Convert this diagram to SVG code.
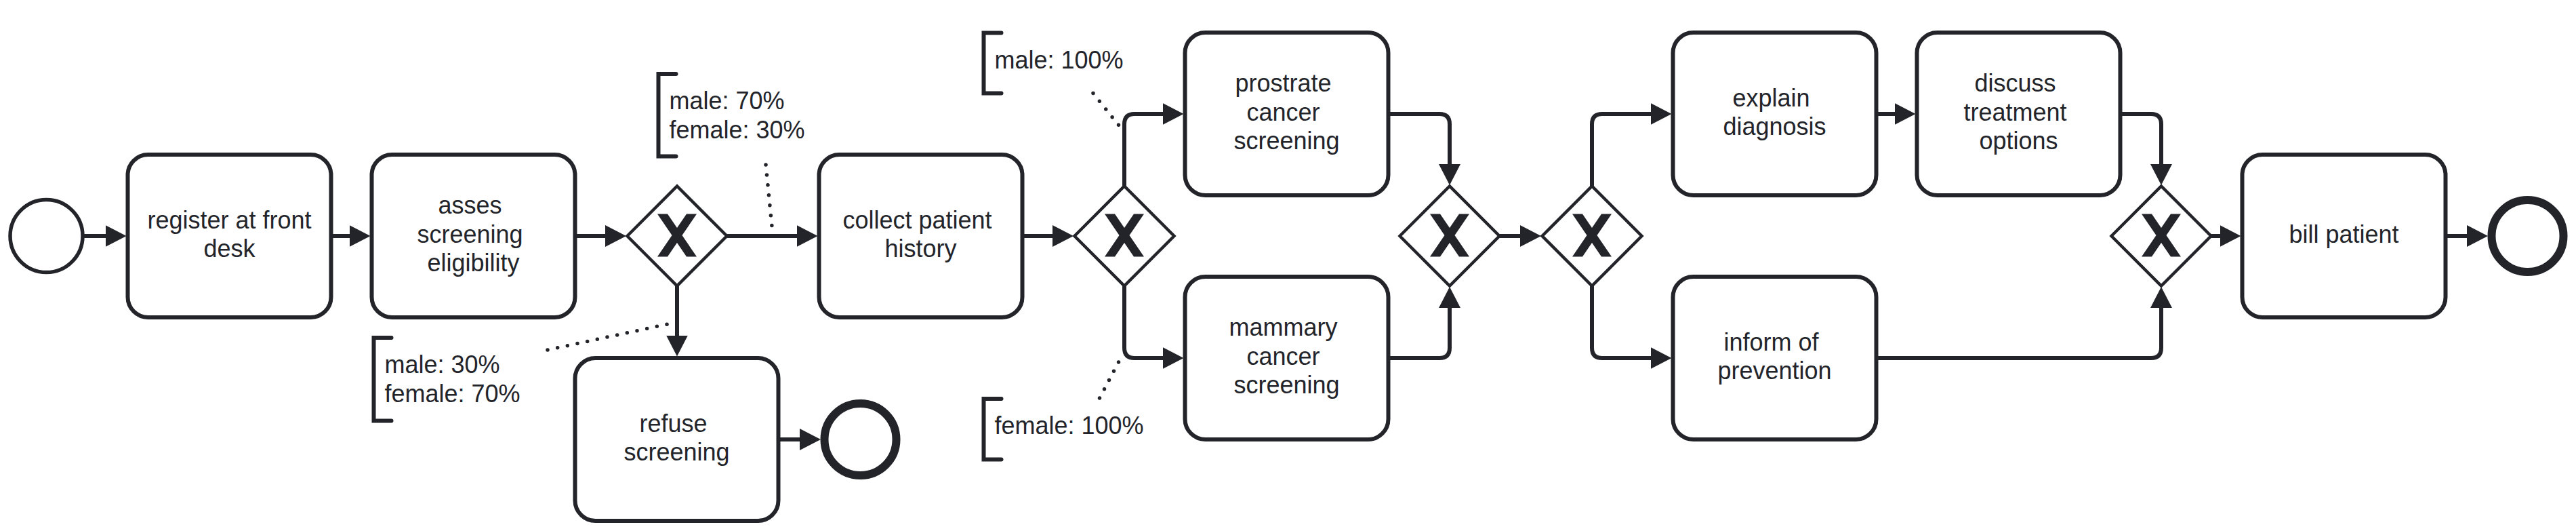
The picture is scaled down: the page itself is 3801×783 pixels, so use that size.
<svg xmlns="http://www.w3.org/2000/svg" width="3801" height="783" viewBox="0 0 3801 783">
  <style>
    .task rect { fill: #ffffff; stroke: #22242a; stroke-width: 6; }
    .gw .d { fill: #ffffff; stroke: #22242a; stroke-width: 4.5; stroke-linejoin: miter; }
    .gw .x { fill: #22242a; }
    .start circle { fill: #ffffff; stroke: #22242a; stroke-width: 5.5; }
    .end circle { fill: #ffffff; stroke: #22242a; stroke-width: 12; }
    .lbl { font-family: "Liberation Sans", Arial, sans-serif; font-size: 36px; fill: #22242a; text-anchor: middle; }
    .note text { font-family: "Liberation Sans", Arial, sans-serif; font-size: 36px; fill: #22242a; text-anchor: start; }
    .note path { fill: none; stroke: #22242a; stroke-width: 6; stroke-linecap: round; stroke-linejoin: miter; }
    .flow { fill: none; stroke: #22242a; stroke-width: 6; stroke-linejoin: round; marker-end: url(#arrow); }
    .assoc { fill: none; stroke: #22242a; stroke-width: 5.5; stroke-dasharray: 0 15; stroke-linecap: round; }
  </style>
  <defs>
    <marker id="arrow" markerUnits="userSpaceOnUse" viewBox="0 0 31 32" markerWidth="31" markerHeight="32" refX="25" refY="16" orient="auto">
      <path d="M0,0 L31,16 L0,32 Z" fill="#22242a"/>
    </marker>
    <!-- exclusive gateway marker, centred on 0,0 -->
    <path id="xmark" d="M-29,-31.5 H-14 L0,-11 L14,-31.5 H29 L7.5,0 L29,31.5 H14 L0,11 L-14,31.5 H-29 L-7.5,0 Z"/>
  </defs>

  <rect x="0" y="0" width="3801" height="783" fill="#ffffff"/>

  <!-- events -->
  <g id="start" class="start"><circle cx="68.5" cy="348" r="53.5"/></g>
  <g id="end-refused" class="end"><circle cx="1269.5" cy="648" r="53"/></g>
  <g id="end-billed" class="end"><circle cx="3729.5" cy="348" r="53"/></g>

  <!-- tasks -->
  <g id="register" class="task">
    <rect x="188.5" y="228" width="300" height="240" rx="30"/>
    <text class="lbl"><tspan x="338.5" y="336.5">register at front</tspan><tspan x="338.5" y="379">desk</tspan></text>
  </g>
  <g id="assess" class="task">
    <rect x="548.5" y="228" width="300" height="240" rx="30"/>
    <text class="lbl"><tspan x="693.5" y="315">asses</tspan><tspan x="693.5" y="357.5">screening</tspan><tspan x="698.5" y="400">eligibility</tspan></text>
  </g>
  <g id="refuse" class="task">
    <rect x="848.5" y="528" width="300" height="240" rx="30"/>
    <text class="lbl"><tspan x="993.5" y="636.5">refuse</tspan><tspan x="998.5" y="679">screening</tspan></text>
  </g>
  <g id="collect" class="task">
    <rect x="1208.5" y="228" width="300" height="240" rx="30"/>
    <text class="lbl"><tspan x="1353.5" y="336.5">collect patient</tspan><tspan x="1358.5" y="379">history</tspan></text>
  </g>
  <g id="prostate" class="task">
    <rect x="1748.5" y="48" width="300" height="240" rx="30"/>
    <text class="lbl"><tspan x="1893.5" y="135">prostrate</tspan><tspan x="1893.5" y="177.5">cancer</tspan><tspan x="1898.5" y="220">screening</tspan></text>
  </g>
  <g id="mammary" class="task">
    <rect x="1748.5" y="408" width="300" height="240" rx="30"/>
    <text class="lbl"><tspan x="1893.5" y="495">mammary</tspan><tspan x="1893.5" y="537.5">cancer</tspan><tspan x="1898.5" y="580">screening</tspan></text>
  </g>
  <g id="explain" class="task">
    <rect x="2468.5" y="48" width="300" height="240" rx="30"/>
    <text class="lbl"><tspan x="2613.5" y="156.5">explain</tspan><tspan x="2618.5" y="199">diagnosis</tspan></text>
  </g>
  <g id="discuss" class="task">
    <rect x="2828.5" y="48" width="300" height="240" rx="30"/>
    <text class="lbl"><tspan x="2973.5" y="135">discuss</tspan><tspan x="2973.5" y="177.5">treatment</tspan><tspan x="2978.5" y="220">options</tspan></text>
  </g>
  <g id="inform" class="task">
    <rect x="2468.5" y="408" width="300" height="240" rx="30"/>
    <text class="lbl"><tspan x="2613.5" y="516.5">inform of</tspan><tspan x="2618.5" y="559">prevention</tspan></text>
  </g>
  <g id="bill" class="task">
    <rect x="3308.5" y="228" width="300" height="240" rx="30"/>
    <text class="lbl" x="3458.5" y="358">bill patient</text>
  </g>

  <!-- exclusive gateways -->
  <g id="gw-eligible" class="gw">
    <polygon class="d" points="925.5,348 999,274.5 1072.5,348 999,421.5"/>
    <use href="#xmark" class="x" x="999" y="347"/>
  </g>
  <g id="gw-sex" class="gw">
    <polygon class="d" points="1585.5,348 1659,274.5 1732.5,348 1659,421.5"/>
    <use href="#xmark" class="x" x="1659" y="347"/>
  </g>
  <g id="gw-sex-join" class="gw">
    <polygon class="d" points="2065.5,348 2139,274.5 2212.5,348 2139,421.5"/>
    <use href="#xmark" class="x" x="2139" y="347"/>
  </g>
  <g id="gw-result" class="gw">
    <polygon class="d" points="2275.5,348 2349,274.5 2422.5,348 2349,421.5"/>
    <use href="#xmark" class="x" x="2349" y="347"/>
  </g>
  <g id="gw-result-join" class="gw">
    <polygon class="d" points="3115.5,348 3189,274.5 3262.5,348 3189,421.5"/>
    <use href="#xmark" class="x" x="3189" y="347"/>
  </g>

  <!-- text annotations -->
  <g id="note-accept" class="note">
    <path d="M997.5,109 H971.5 V230.5 H997.5"/>
    <text><tspan x="987.5" y="161">male: 70%</tspan><tspan x="987.5" y="204">female: 30%</tspan></text>
  </g>
  <g id="note-refuse" class="note">
    <path d="M577.5,498 H551.5 V620.5 H577.5"/>
    <text><tspan x="567.5" y="550">male: 30%</tspan><tspan x="567.5" y="593">female: 70%</tspan></text>
  </g>
  <g id="note-male" class="note">
    <path d="M1477.5,48.5 H1451.5 V137.5 H1477.5"/>
    <text x="1467.5" y="101">male: 100%</text>
  </g>
  <g id="note-female" class="note">
    <path d="M1477.5,588 H1451.5 V677.5 H1477.5"/>
    <text x="1467.5" y="640">female: 100%</text>
  </g>

  <!-- sequence flows and associations -->
  <g id="connectors">
    <path class="flow" d="M122,348 H180.5"/>
    <path class="flow" d="M488.5,348 H540.5"/>
    <path class="flow" d="M848.5,348 H918"/>
    <path class="flow" d="M1072.5,348 H1200.5"/>
    <path class="flow" d="M999,421.5 V519.5"/>
    <path class="flow" d="M1148.5,648 H1205"/>
    <path class="flow" d="M1508.5,348 H1578"/>
    <path class="flow" d="M1659,274.5 V183 Q1659,168 1674,168 H1740.5"/>
    <path class="flow" d="M1659,421.5 V513 Q1659,528 1674,528 H1740.5"/>
    <path class="flow" d="M2048.5,168 H2124 Q2139,168 2139,183 V267"/>
    <path class="flow" d="M2048.5,528 H2124 Q2139,528 2139,513 V429"/>
    <path class="flow" d="M2212.5,348 H2268"/>
    <path class="flow" d="M2349,274.5 V183 Q2349,168 2364,168 H2460.5"/>
    <path class="flow" d="M2349,421.5 V513 Q2349,528 2364,528 H2460.5"/>
    <path class="flow" d="M2768.5,168 H2820.5"/>
    <path class="flow" d="M3128.5,168 H3174 Q3189,168 3189,183 V267"/>
    <path class="flow" d="M2768.5,528 H3174 Q3189,528 3189,513 V429"/>
    <path class="flow" d="M3262.5,348 H3300.5"/>
    <path class="flow" d="M3608.5,348 H3665"/>

    <path class="assoc" d="M1130,243 L1139,334"/>
    <path class="assoc" d="M808,516 L985,478"/>
    <path class="assoc" d="M1613,137.5 L1651,185"/>
    <path class="assoc" d="M1622.5,587 L1651,533"/>
  </g>
</svg>
